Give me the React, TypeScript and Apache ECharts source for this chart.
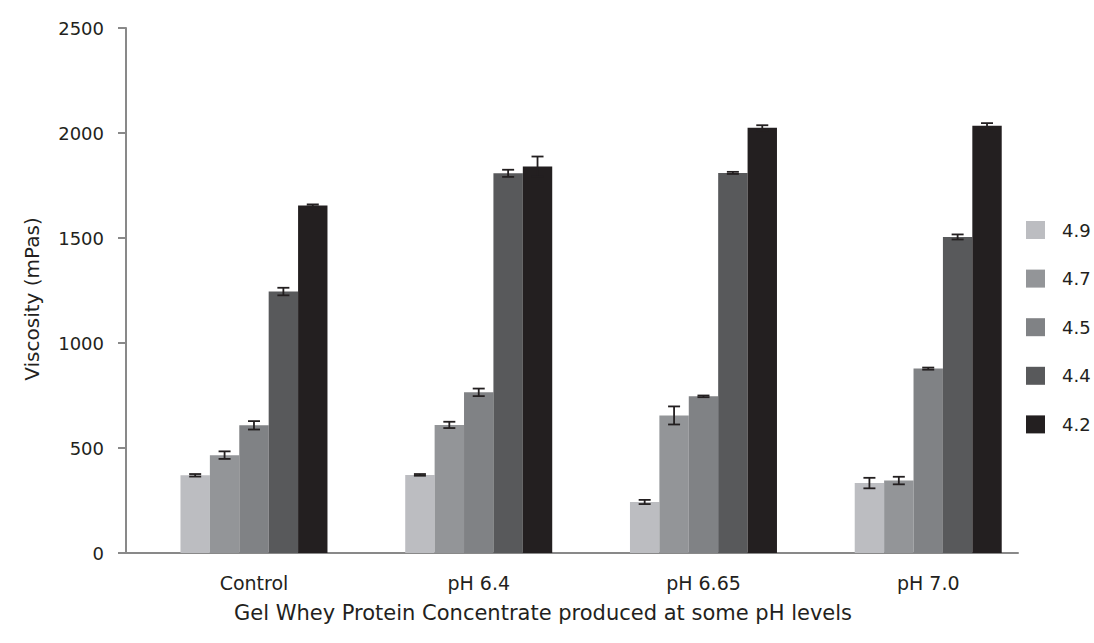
import React, { useEffect, useRef } from "react";
import * as echarts from "echarts";

const categories = ["Control", "pH 6.4", "pH 6.65", "pH 7.0"];
const seriesNames = ["4.9", "4.7", "4.5", "4.4", "4.2"];
const v49 = [370, 372, 243, 333];
const v47 = [466, 610, 655, 345];
const v45 = [608, 765, 746, 878];
const v44 = [1245, 1808, 1810, 1505];
const v42 = [1655, 1840, 2025, 2035];
const e49 = [6, 4, 10, 25];
const e47 = [18, 15, 43, 18];
const e45 = [20, 18, 4, 5];
const e44 = [18, 17, 5, 12];
const e42 = [5, 48, 12, 12];
const yTicks = [0, 500, 1000, 1500, 2000, 2500];
const colors = ["#bcbdc1", "#939598", "#808285", "#58595b", "#231f20"];

const values = [v49, v47, v45, v44, v42];
const errors = [e49, e47, e45, e44, e42];

const FONT = "DejaVu Sans";
const BAR_W = 29.4;

export default function App() {
  const ref = useRef<HTMLDivElement>(null);
  useEffect(() => {
    if (!ref.current) return;
    const chart = echarts.init(ref.current, null, { renderer: "svg" });
    const barSeries = seriesNames.map((name, k) => ({
      name,
      type: "bar",
      xAxisIndex: 1,
      yAxisIndex: 1,
      barWidth: BAR_W,
      barGap: "0%",
      itemStyle: { color: colors[k] },
      data: values[k],
    }));
    const errSeries = seriesNames.map((name, k) => ({
      name: name + " err",
      type: "custom",
      xAxisIndex: 1,
      yAxisIndex: 1,
      z: 10,
      data: values[k].map((v, i) => [i, v, errors[k][i]]),
      renderItem: (params: any, api: any) => {
        const idx = api.value(0);
        const v = api.value(1);
        const e = api.value(2);
        const top = api.coord([idx, v + e]);
        const bot = api.coord([idx, v - e]);
        const x = top[0] + (k - 2) * BAR_W;
        const cap = 6;
        const st = { stroke: "#231f20", lineWidth: 1.8 };
        return {
          type: "group",
          children: [
            { type: "line", shape: { x1: x, y1: top[1], x2: x, y2: bot[1] }, style: st },
            { type: "line", shape: { x1: x - cap, y1: top[1], x2: x + cap, y2: top[1] }, style: st },
            { type: "line", shape: { x1: x - cap, y1: bot[1], x2: x + cap, y2: bot[1] }, style: st },
          ],
        };
      },
    }));
    chart.setOption({
      animation: false,
      textStyle: { fontFamily: FONT },
      grid: [
        { left: 126, top: 28, width: 892, height: 525 },
        { left: 141.6, top: 28, width: 899, height: 525 },
      ],
      xAxis: [
        {
          type: "category",
          gridIndex: 0,
          data: categories,
          axisLine: { show: true, lineStyle: { color: "#898989", width: 2 } },
          axisTick: { show: false },
          axisLabel: { show: false },
        },
        {
          type: "category",
          gridIndex: 1,
          data: categories,
          axisLine: { show: false },
          axisTick: { show: false },
          axisLabel: { fontSize: 19, color: "#231f20", fontFamily: FONT, margin: 20 },
        },
      ],
      yAxis: [
        {
          type: "value",
          gridIndex: 0,
          min: yTicks[0],
          max: yTicks[yTicks.length - 1],
          interval: 500,
          splitLine: { show: false },
          axisLine: { show: true, lineStyle: { color: "#898989", width: 2 } },
          axisTick: { show: true, inside: false, length: 8, lineStyle: { color: "#898989", width: 2 } },
          axisLabel: {
            fontSize: 18,
            color: "#231f20",
            fontFamily: FONT,
            margin: 22,
            formatter: (v: number) => String(v),
          },
        },
        {
          type: "value",
          gridIndex: 1,
          min: yTicks[0],
          max: yTicks[yTicks.length - 1],
          show: false,
          splitLine: { show: false },
        },
      ],
      legend: {
        orient: "vertical",
        left: 1026,
        top: 221,
        padding: 0,
        itemWidth: 19,
        itemHeight: 18,
        itemGap: 30.6,
        icon: "rect",
        data: seriesNames,
        textStyle: { fontSize: 18, color: "#231f20", fontFamily: FONT, lineHeight: 18, padding: [0, 0, 0, 12] },
      },
      graphic: [
        {
          type: "text",
          x: 543,
          y: 613,
          style: {
            text: "Gel Whey Protein Concentrate produced at some pH levels",
            fontSize: 21,
            fontFamily: FONT,
            fill: "#231f20",
            textAlign: "center",
            textVerticalAlign: "middle",
          },
        },
        {
          type: "text",
          x: 32,
          y: 299,
          rotation: Math.PI / 2,
          style: {
            text: "Viscosity (mPas)",
            fontSize: 20,
            fontFamily: FONT,
            fill: "#231f20",
            textAlign: "center",
            textVerticalAlign: "middle",
          },
        },
      ],
      series: [...barSeries, ...errSeries],
    });
    return () => chart.dispose();
  }, []);
  return (
    <div
      ref={ref}
      style={{ position: "fixed", left: 0, top: 0, width: 1094, height: 643, background: "#fff" }}
    />
  );
}
